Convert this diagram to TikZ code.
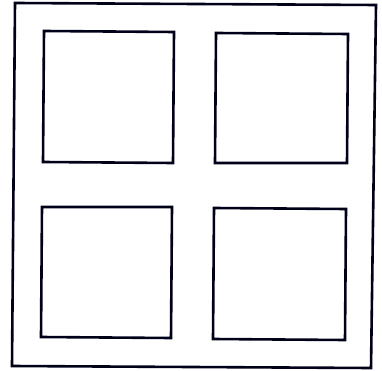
\documentclass[tikz,border=0pt]{standalone}
\begin{document}
\begin{tikzpicture}[x=1pt,y=-1pt,
  frame/.style={draw=black!90!blue,line width=2.6pt,line join=miter}]
\useasboundingbox (0,0) rectangle (382,371);
\fill[white] (0,0) rectangle (382,371);
% outer frame
\draw[frame] (15,3) -- (376,5) -- (371,368) -- (12,366) -- cycle;
% four panes
\draw[frame] (44,31) -- (174,32) -- (173,163) -- (43,162) -- cycle;
\draw[frame] (216,33) -- (348,34) -- (347,163) -- (215,163) -- cycle;
\draw[frame] (42,207) -- (172,207) -- (171,338) -- (41,337) -- cycle;
\draw[frame] (214,208) -- (346,209) -- (345,340) -- (213,339) -- cycle;
\end{tikzpicture}
\end{document}
